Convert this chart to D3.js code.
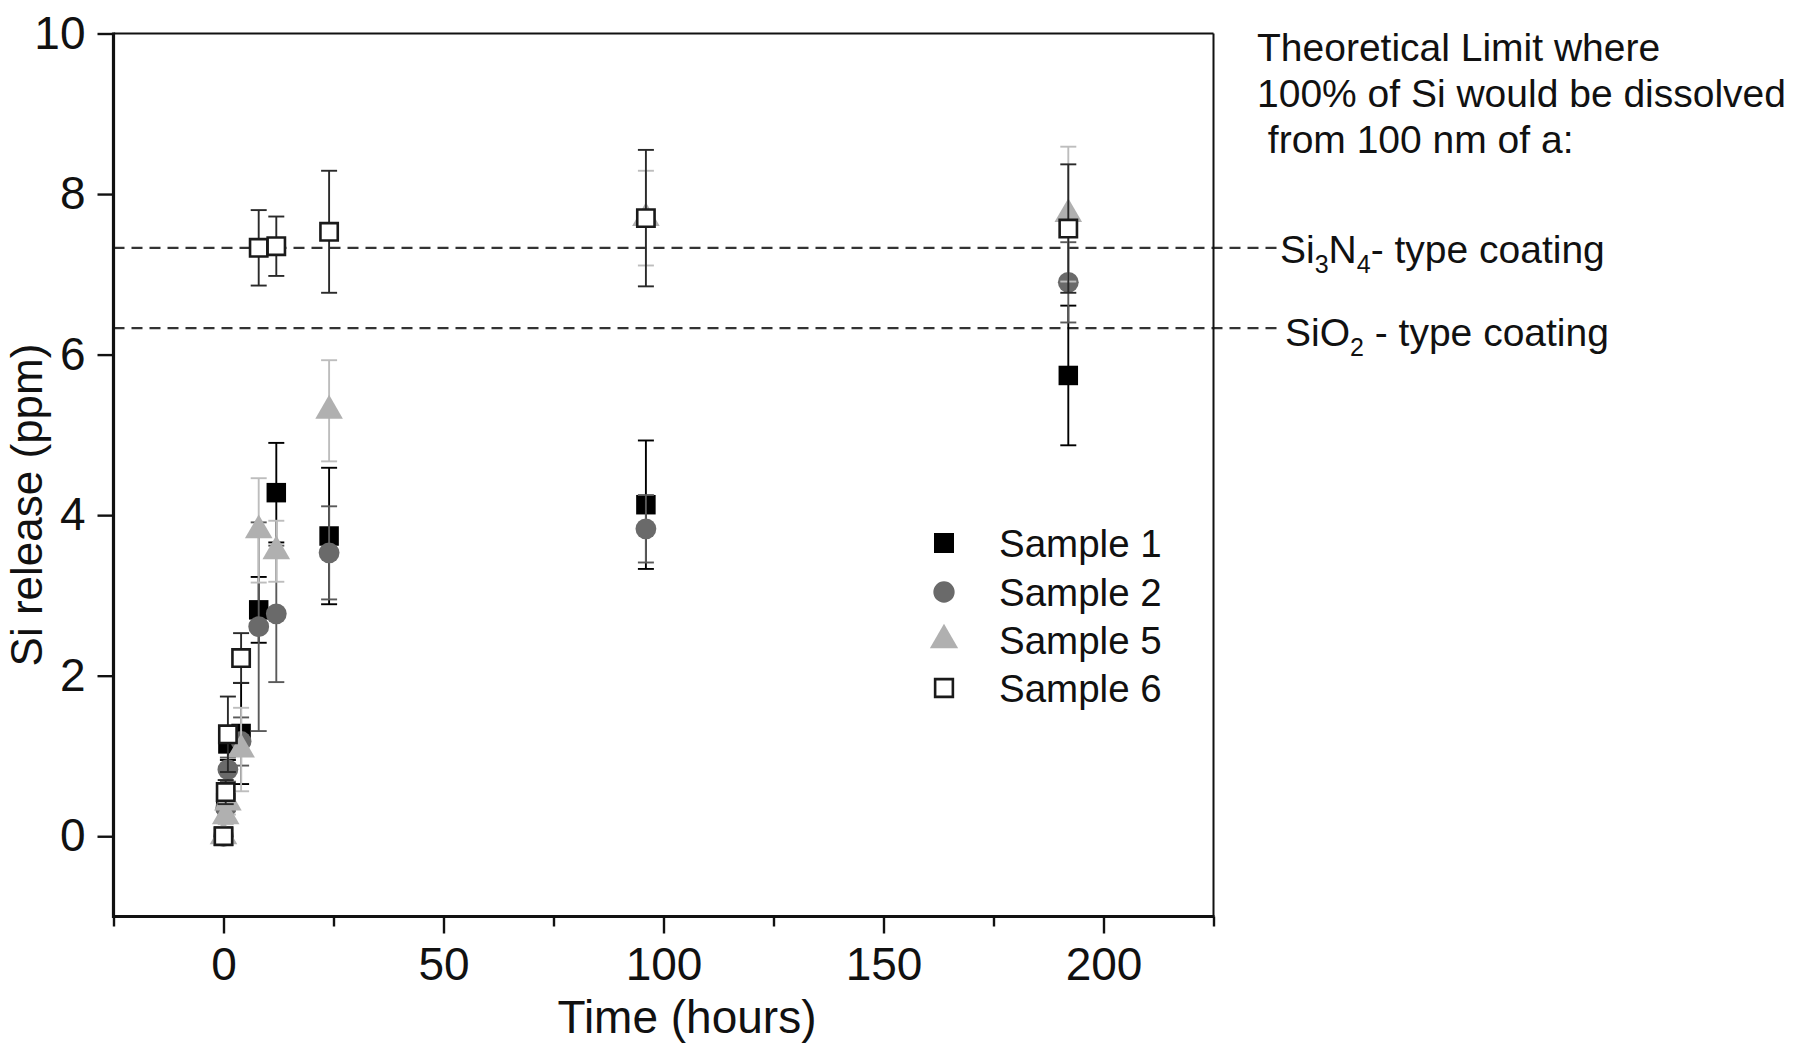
<!DOCTYPE html>
<html>
<head>
<meta charset="utf-8">
<script src="https://cdn.jsdelivr.net/npm/d3@7"></script>
<style>
  html, body { margin: 0; padding: 0; background: #fff; }
  svg { display: block; }
  text { font-family: "Liberation Sans", Arial, sans-serif; fill: #111; }
</style>
</head>
<body>
<script>
// ---------- data ----------
const times = [0, 0.5, 1, 4, 8, 12, 24, 96, 192];

const sample1    = [0,    0.42, 1.15, 1.28, 2.82, 4.28, 3.74, 4.13, 5.74];
const sample1Err = [0,    0.10, 0.20, 0.63, 0.41, 0.62, 0.85, 0.80, 0.87];

const sample2    = [0,    0.35, 0.83, 1.18, 2.61, 2.77, 3.53, 3.83, 6.90];
const sample2Err = [0,    0.10, 0.15, 0.30, 1.30, 0.85, 0.58, 0.42, 0.50];

const sample5    = [0,    0.25, 0.42, 1.08, 3.81, 3.55, 5.30, 7.70, 7.75];
const sample5Err = [0,    0.10, 0.15, 0.52, 0.65, 0.38, 0.63, 0.59, 0.84];

const sample6    = [0,    0.55, 1.27, 2.22, 7.33, 7.35, 7.53, 7.70, 7.57];
const sample6Err = [0,    0.15, 0.47, 0.31, 0.47, 0.37, 0.76, 0.85, 0.80];

const seriesNames = ["Sample 1", "Sample 2", "Sample 5", "Sample 6"];

const limitValues = [7.33, 6.33];

const xTicks = [0, 50, 100, 150, 200];
const xMinorTicks = [-25, 25, 75, 125, 175, 225];
const yTicks = [0, 2, 4, 6, 8, 10];

const annotationLines = ["Theoretical Limit where", "100% of Si would be dissolved", " from 100 nm of a:"];

// ---------- styles ----------
const styles = [
  { shape: d3.symbolSquare,   size: 380, fill: "#000",    stroke: "none", sw: 0,   err: "#000" },
  { shape: d3.symbolCircle,   size: 340, fill: "#6a6a6a", stroke: "none", sw: 0,   err: "#5a5a5a" },
  { shape: d3.symbolTriangle, size: 330, fill: "#b0b0b0", stroke: "none", sw: 0,   err: "#bdbdbd" },
  { shape: d3.symbolSquare,   size: 300, fill: "#fff",    stroke: "#1a1a1a", sw: 2.6, err: "#2a2a2a" }
];
const seriesValues = [sample1, sample2, sample5, sample6];
const seriesErrors = [sample1Err, sample2Err, sample5Err, sample6Err];

const W = 1800, H = 1048;
const svg = d3.select("body").append("svg").attr("width", W).attr("height", H);

const x = d3.scaleLinear().domain([-25, 225]).range([113.5, 1213.5]);
const y = d3.scaleLinear().domain([-1, 10]).range([916.5, 33.5]);

// ---------- frame ----------
const frame = svg.append("g");
frame.append("line").attr("x1", x(-25)).attr("x2", x(225)).attr("y1", y(10)).attr("y2", y(10))
  .attr("stroke", "#111").attr("stroke-width", 2);
frame.append("line").attr("x1", x(225)).attr("x2", x(225)).attr("y1", y(10)).attr("y2", y(-1))
  .attr("stroke", "#111").attr("stroke-width", 2);

// dashed theoretical limits
svg.append("g").selectAll("line").data(limitValues).join("line")
  .attr("x1", x(-25)).attr("x2", 1278)
  .attr("y1", d => y(d)).attr("y2", d => y(d))
  .attr("stroke", "#333").attr("stroke-width", 2.4)
  .attr("stroke-dasharray", "11,7");

// ---------- axes ----------
const xAxis = svg.append("g").attr("transform", `translate(0,${y(-1)})`)
  .call(d3.axisBottom(x).tickValues(xTicks).tickSize(17).tickPadding(14).tickFormat(d3.format("d")));
xAxis.select(".domain").remove();
xAxis.selectAll(".tick line").attr("stroke", "#111").attr("stroke-width", 2.4);
xAxis.selectAll(".tick text").attr("font-size", 46).attr("fill", "#111")
  .style("font-family", "'Liberation Sans', Arial, sans-serif");

const xMinor = svg.append("g").attr("transform", `translate(0,${y(-1)})`)
  .call(d3.axisBottom(x).tickValues(xMinorTicks).tickSize(10).tickFormat(""));
xMinor.select(".domain").remove();
xMinor.selectAll(".tick line").attr("stroke", "#111").attr("stroke-width", 2.4);

const yAxis = svg.append("g").attr("transform", `translate(${x(-25)},0)`)
  .call(d3.axisLeft(y).tickValues(yTicks).tickSize(16).tickPadding(12).tickFormat(d3.format("d")));
yAxis.select(".domain").remove();
yAxis.selectAll(".tick line").attr("stroke", "#111").attr("stroke-width", 2.4);
yAxis.selectAll(".tick text").attr("font-size", 46).attr("fill", "#111")
  .style("font-family", "'Liberation Sans', Arial, sans-serif");

// thick left & bottom axis lines
frame.raise();
svg.append("line").attr("x1", x(-25)).attr("x2", x(-25)).attr("y1", y(10) - 1).attr("y2", y(-1) + 1.5)
  .attr("stroke", "#111").attr("stroke-width", 3.2);
svg.append("line").attr("x1", x(-25) - 1.5).attr("x2", x(225) + 1).attr("y1", y(-1)).attr("y2", y(-1))
  .attr("stroke", "#111").attr("stroke-width", 3.2);

// axis titles
svg.append("text").attr("x", 687).attr("y", 1033).attr("text-anchor", "middle")
  .attr("font-size", 46).text("Time (hours)");
svg.append("text").attr("transform", "translate(42,505) rotate(-90)").attr("text-anchor", "middle")
  .attr("font-size", 44).text("Si release (ppm)");

// ---------- series ----------
const capW = 8;
seriesValues.forEach((vals, si) => {
  const st = styles[si];
  const errs = seriesErrors[si];
  const pts = times.map((t, i) => ({ t, v: vals[i], e: errs[i] }));
  const g = svg.append("g");
  const eb = g.append("g").attr("stroke", st.err).attr("stroke-width", 1.9);
  pts.filter(d => d.e > 0).forEach(d => {
    eb.append("line").attr("x1", x(d.t)).attr("x2", x(d.t)).attr("y1", y(d.v - d.e)).attr("y2", y(d.v + d.e));
    eb.append("line").attr("x1", x(d.t) - capW).attr("x2", x(d.t) + capW).attr("y1", y(d.v + d.e)).attr("y2", y(d.v + d.e));
    eb.append("line").attr("x1", x(d.t) - capW).attr("x2", x(d.t) + capW).attr("y1", y(d.v - d.e)).attr("y2", y(d.v - d.e));
  });
  g.append("g").selectAll("path").data(pts).join("path")
    .attr("d", d3.symbol().type(st.shape).size(st.size))
    .attr("transform", d => `translate(${x(d.t)},${y(d.v)})`)
    .attr("fill", st.fill).attr("stroke", st.stroke).attr("stroke-width", st.sw);
});

// ---------- legend ----------
const legendY = [543, 592, 640, 688];
const legend = svg.append("g");
seriesNames.forEach((name, i) => {
  const st = styles[i];
  legend.append("path")
    .attr("d", d3.symbol().type(st.shape).size(st.size * 1.05))
    .attr("transform", `translate(944,${legendY[i]})`)
    .attr("fill", st.fill).attr("stroke", st.stroke).attr("stroke-width", st.sw);
  legend.append("text").attr("x", 999).attr("y", legendY[i]).attr("dy", "0.36em")
    .attr("font-size", 38.5).text(name);
});

// ---------- annotation ----------
const ann = svg.append("g");
annotationLines.forEach((line, i) => {
  ann.append("text").attr("x", 1257).attr("y", 61 + i * 46).attr("font-size", 39)
    .attr("xml:space", "preserve").style("white-space", "pre").text(line);
});

const l1 = ann.append("text").attr("x", 1280).attr("y", y(limitValues[0]) + 15).attr("font-size", 39);
l1.append("tspan").text("Si");
l1.append("tspan").attr("font-size", 25).attr("dy", 10).text("3");
l1.append("tspan").attr("dy", -10).text("N");
l1.append("tspan").attr("font-size", 25).attr("dy", 10).text("4");
l1.append("tspan").attr("dy", -10).text("- type coating");

const l2 = ann.append("text").attr("x", 1285).attr("y", y(limitValues[1]) + 18).attr("font-size", 39);
l2.append("tspan").text("SiO");
l2.append("tspan").attr("font-size", 25).attr("dy", 10).text("2");
l2.append("tspan").attr("dy", -10).style("white-space", "pre").text(" - type coating");
</script>
</body>
</html>
